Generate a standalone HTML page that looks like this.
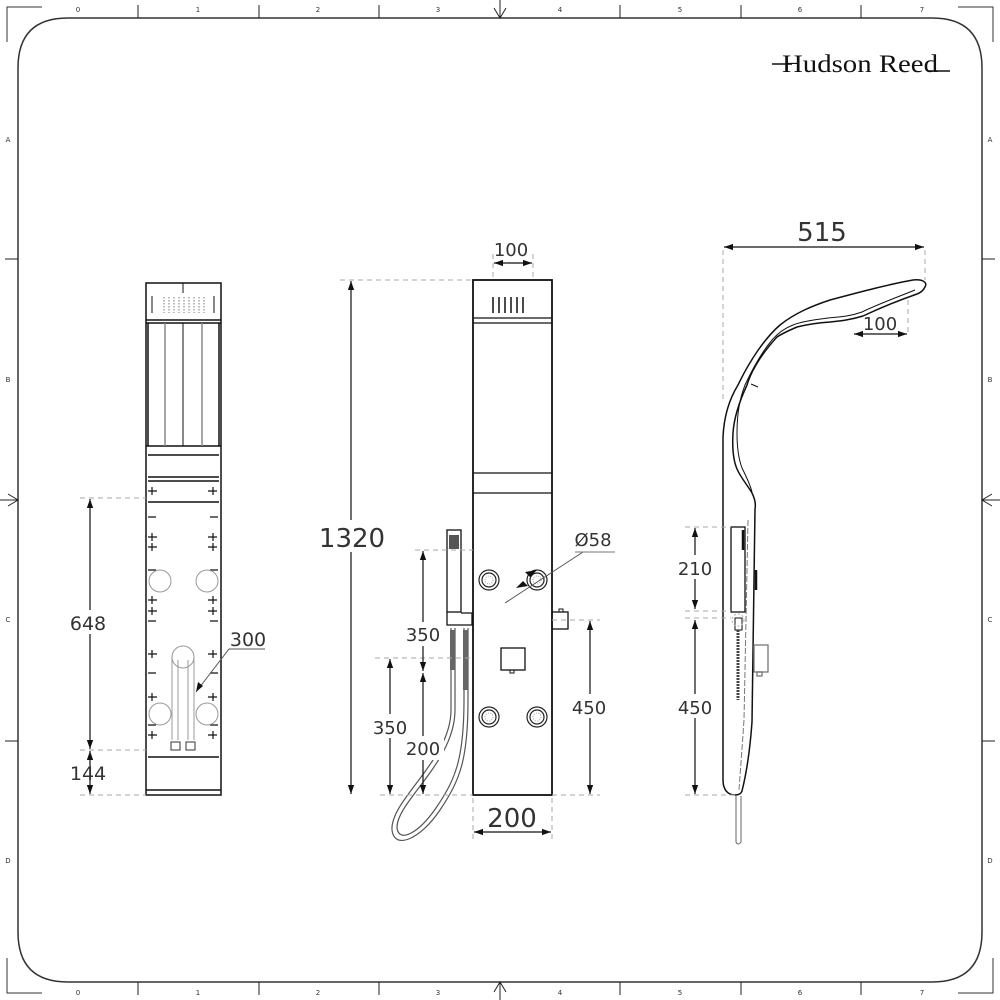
<!DOCTYPE html>
<html><head><meta charset="utf-8"><style>
html,body{margin:0;padding:0;background:#fff;width:1000px;height:1000px;overflow:hidden}
svg{display:block}
text{font-family:"DejaVu Sans","Liberation Sans",sans-serif;fill:#333}
</style></head><body>
<svg width="1000" height="1000" viewBox="0 0 1000 1000" xmlns="http://www.w3.org/2000/svg">
<defs>
<marker id="a" viewBox="0 0 10 10" refX="10" refY="5" markerWidth="9" markerHeight="9" orient="auto-start-reverse" markerUnits="userSpaceOnUse"><path d="M0,1.5 L10,5 L0,8.5 z" fill="#111"/></marker>
</defs>
<g fill="none" stroke="#333" stroke-width="1.5">
<path d="M18,68 Q18,18 68,18 L932,18 Q982,18 982,68 L982,932 Q982,982 932,982 L68,982 Q18,982 18,932 Z"/>
<path d="M7,42 V7 H42 M958,7 H993 V42 M7,958 V993 H42 M958,993 H993 V958" stroke-width="1"/>
</g>
<g stroke="#222" stroke-width="1">
<path d="M138,5V18 M259,5V18 M379,5V18 M620,5V18 M741,5V18 M861,5V18"/>
<path d="M138,982V995 M259,982V995 M379,982V995 M620,982V995 M741,982V995 M861,982V995"/>
<path d="M5,259H18 M5,741H18 M982,259H995 M982,741H995"/>
<path d="M500,0V18 M494,8L500,18L506,8 M500,982V1000 M494,992L500,982L506,992" fill="none"/>
<path d="M0,500H18 M8,494L18,500L8,506 M982,500H1000 M992,494L982,500L992,506" fill="none"/>
</g>
<g font-size="7" text-anchor="middle" style="font-family:'Liberation Mono',monospace">
<text x="78" y="12">0</text><text x="198" y="12">1</text><text x="318" y="12">2</text><text x="438" y="12">3</text><text x="560" y="12">4</text><text x="680" y="12">5</text><text x="800" y="12">6</text><text x="922" y="12">7</text>
<text x="78" y="995">0</text><text x="198" y="995">1</text><text x="318" y="995">2</text><text x="438" y="995">3</text><text x="560" y="995">4</text><text x="680" y="995">5</text><text x="800" y="995">6</text><text x="922" y="995">7</text>
<text x="8" y="142">A</text><text x="8" y="382">B</text><text x="8" y="622">C</text><text x="8" y="863">D</text>
<text x="990" y="142">A</text><text x="990" y="382">B</text><text x="990" y="622">C</text><text x="990" y="863">D</text>
</g>
<text x="782" y="72" font-size="25" textLength="156" lengthAdjust="spacingAndGlyphs" style="font-family:'Liberation Serif',serif;fill:#111">Hudson Reed</text>
<path d="M772,64H792 M928,71H950" stroke="#111" stroke-width="1.5"/>

<!-- LEFT VIEW -->
<g fill="none" stroke="#111" stroke-width="1.5">
<rect x="146" y="283" width="75" height="512"/>
<path d="M146,320H221 M146,323H221 M146,446H221 M148,455H219 M148,477H219 M148,481H219 M148,502H219 M148,757H219 M146,790H221"/>
<path d="M183,323V446 M183,283V293" stroke-width="1"/>
<path d="M148,323V446 M219,323V446 M148,340V446" />
<path d="M165,323V446 M202,323V446" stroke="#888"/>
<path d="M164,297V313 M169,297V313 M174,297V313 M179,297V313 M184,297V313 M189,297V313 M194,297V313 M199,297V313 M204,297V313" stroke="#777" stroke-dasharray="1.5,1.5" stroke-width="1"/>
<path d="M152,296V313 M214,296V313" stroke-width="1"/>
</g>
<g stroke="#111" stroke-width="1.2">
<path d="M148,491h9 M152,487v8 M208,491h9 M213,487v8"/>
<path d="M148,517h8 M210,517h8"/>
<path d="M148,537h9 M152,533v8 M208,537h9 M213,533v8 M148,547h9 M152,543v8 M208,547h9 M213,543v8"/>
<path d="M148,570h8 M210,570h8"/>
<path d="M148,600h9 M152,596v8 M208,600h9 M213,596v8 M148,611h9 M152,607v8 M208,611h9 M213,607v8"/>
<path d="M148,621h8 M210,621h8 M148,654h9 M152,650v8 M208,654h9 M213,650v8"/>
<path d="M148,673h8 M210,673h8 M148,697h9 M152,693v8 M208,697h9 M213,693v8"/>
<path d="M148,725h8 M210,725h8 M148,735h9 M152,731v8 M208,735h9 M213,731v8"/>
</g>
<g fill="none" stroke="#999" stroke-width="1">
<circle cx="160" cy="581" r="11"/><circle cx="207" cy="581" r="11"/>
<circle cx="160" cy="714" r="11"/><circle cx="207" cy="714" r="11"/>
<circle cx="183" cy="657" r="11"/>
<path d="M172,657V740 M178,660V740 M188,660V740 M194,657V740"/>
</g>
<g fill="none" stroke="#333" stroke-width="1"><rect x="171" y="742" width="9" height="8"/><rect x="186" y="742" width="9" height="8"/></g>
<g stroke="#aaa" stroke-width="1" stroke-dasharray="5,4">
<path d="M80,498H146 M80,750H146 M80,795H146"/>
</g>
<g stroke="#111" stroke-width="1.2" fill="none">
<path d="M90,499V749" marker-start="url(#a)" marker-end="url(#a)"/>
<path d="M90,751V794" marker-start="url(#a)" marker-end="url(#a)"/>
<path d="M265,649H229 L196,692" stroke="#555" stroke-width="1"/>
</g>
<path d="M196,692 l2,-10 l5,4 z" fill="#111"/>
<g font-size="19" text-anchor="middle">
<rect x="70" y="610" width="40" height="24" fill="#fff"/>
<text x="88" y="630">648</text><text x="88" y="780">144</text><text x="248" y="646">300</text>
</g>

<!-- MIDDLE VIEW -->
<g fill="none" stroke="#111" stroke-width="1.8">
<rect x="473" y="280" width="79" height="515"/>
<path d="M473,318H552 M473,323H552 M473,473H552 M473,493H552" stroke-width="1.3"/>
<path d="M493,297V313 M499,297V313 M505,297V313 M511,297V313 M517,297V313 M523,297V313" stroke-width="1.5"/>
<rect x="501" y="648" width="24" height="22" stroke-width="1.3"/>
<rect x="510" y="670" width="4" height="3" stroke-width="1"/>
<rect x="552" y="612" width="16" height="17" stroke-width="1.3"/>
<rect x="559" y="609" width="4" height="3" stroke-width="1"/>
</g>
<g fill="none" stroke="#222" stroke-width="1.2">
<circle cx="489" cy="580" r="10"/><circle cx="489" cy="580" r="7"/>
<circle cx="537" cy="580" r="10"/><circle cx="537" cy="580" r="7"/>
<circle cx="489" cy="717" r="10"/><circle cx="489" cy="717" r="7"/>
<circle cx="537" cy="717" r="10"/><circle cx="537" cy="717" r="7"/>
</g>
<g fill="none" stroke="#999" stroke-dasharray="1,1.5"><circle cx="489" cy="580" r="4"/><circle cx="537" cy="580" r="4"/><circle cx="489" cy="717" r="4"/><circle cx="537" cy="717" r="4"/></g>
<g fill="none" stroke="#111" stroke-width="1.3">
<rect x="447" y="530" width="14" height="82"/>
<rect x="449" y="535" width="10" height="14" fill="#555" stroke="none"/>
<path d="M447,612V625 H472 V613 H461"/>
</g>
<g fill="none" stroke="#555" stroke-width="1.2">
<path d="M451,628V710 C451,760 390,800 392,830 C394,850 420,840 440,810 C460,780 468,760 468,700 V628"/>
<path d="M455,628V710 C455,762 396,802 397,828 C399,843 418,834 436,808 C455,780 464,760 464,700 V628"/>
</g>
<rect x="450" y="630" width="5" height="40" fill="#666"/>
<rect x="463" y="630" width="5" height="60" fill="#666"/>
<g stroke="#aaa" stroke-width="1" stroke-dasharray="5,4">
<path d="M340,280H473 M493,254V280 M533,254V280 M375,658H473 M415,550H473 M380,795H473 M552,620H600 M552,795H600 M473,798V840 M552,798V840"/>
</g>
<g stroke="#555" stroke-width="1"><path d="M583,552L505,603"/></g>
<path d="M537,570 l-12,2 l5,5z M516,588 l12,-2 l-5,-5z" fill="#111"/>
<g stroke="#111" stroke-width="1.2" fill="none">
<path d="M351,281V794" marker-start="url(#a)" marker-end="url(#a)"/>
<path d="M494,263H532" marker-start="url(#a)" marker-end="url(#a)"/>
<path d="M423,551V671" marker-start="url(#a)" marker-end="url(#a)"/>
<path d="M423,673V794" marker-start="url(#a)" marker-end="url(#a)"/>
<path d="M390,659V794" marker-start="url(#a)" marker-end="url(#a)"/>
<path d="M590,621V794" marker-start="url(#a)" marker-end="url(#a)"/>
<path d="M474,832H551" marker-start="url(#a)" marker-end="url(#a)"/>
</g>
<g text-anchor="middle">
<rect x="320" y="520" width="64" height="32" fill="#fff"/>
<text x="352" y="547" font-size="26">1320</text>
<text x="511" y="256" font-size="18">100</text>
<rect x="402" y="622" width="42" height="24" fill="#fff"/>
<text x="423" y="641" font-size="18">350</text>
<rect x="370" y="714" width="40" height="24" fill="#fff"/>
<text x="390" y="734" font-size="18">350</text>
<rect x="404" y="736" width="40" height="24" fill="#fff"/>
<text x="423" y="755" font-size="18">200</text>
<rect x="570" y="694" width="40" height="24" fill="#fff"/>
<text x="589" y="714" font-size="18">450</text>
<text x="512" y="827" font-size="26">200</text>
<text x="593" y="546" font-size="18">Ø58</text>
</g>
<path d="M575,552H615" stroke="#777" stroke-width="1"/>

<!-- RIGHT VIEW -->
<g fill="none" stroke="#111" stroke-width="1.5">
<path d="M723,780 V437 C724,415 730,398 738,385 C750,360 765,338 780,325 C795,313 812,306 830,300 C860,292 890,284 913,280 C922,279 928,282 925,287 C923,291 920,293 917,294 C900,300 880,308 863,316 C850,320 840,321 830,322 C815,323 805,325 797,327 C790,330 783,333 777,337 C765,350 752,368 747,385 C740,400 734,418 733,433 C732,450 734,462 737,469 C741,478 748,486 752,493 C755,499 756,504 755,509 L752,722 C750,750 746,775 742,791 C741,794 738,795 735,795 C728,795 723,790 723,780 Z"/>
<path d="M915,290 C898,297 878,304 862,312 C848,317 838,317 828,318 C812,320 800,322 793,325 C785,328 778,333 772,340 C762,352 752,370 745,385 C739,400 737,418 737,433 C737,450 739,460 742,468 C746,476 750,484 752,492" stroke-width="1"/>
<path d="M748,520 L744,720 C742,750 740,775 739,790" stroke="#777" stroke-width="1" stroke-dasharray="6,2"/>
<path d="M751,384L758,387" stroke-width="1"/>
</g>
<g fill="none" stroke="#111" stroke-width="1.3">
<rect x="731" y="527" width="14" height="85"/>
<path d="M743,530V550" stroke-width="2.5"/>
<rect x="754" y="645" width="14" height="27" stroke="#777"/>
<rect x="757" y="672" width="5" height="4" stroke="#777"/>
<path d="M756,570v20" stroke-width="2.5"/>
<path d="M735,618 h7 v12 h-7z" stroke-width="1"/>
<path d="M736,796 V842 Q738,846 741,842 V796" stroke="#666" stroke-width="1"/>
<path d="M738,630V700" stroke="#444" stroke-width="3" stroke-dasharray="2,1"/>
</g>
<circle cx="738" cy="620" r="6" fill="none" stroke="#aaa" stroke-dasharray="2,2"/>
<g stroke="#aaa" stroke-width="1" stroke-dasharray="5,4">
<path d="M723,250V400 M925,250V280 M908,300V334 M685,527H731 M685,611H731 M685,618H731 M685,795H735"/>
</g>
<g stroke="#111" stroke-width="1.2" fill="none">
<path d="M724,247H924" marker-start="url(#a)" marker-end="url(#a)"/>
<path d="M854,334H907" marker-start="url(#a)" marker-end="url(#a)"/>
<path d="M695,528V609" marker-start="url(#a)" marker-end="url(#a)"/>
<path d="M695,620V794" marker-start="url(#a)" marker-end="url(#a)"/>
</g>
<g text-anchor="middle">
<text x="822" y="241" font-size="26">515</text>
<text x="880" y="330" font-size="18">100</text>
<rect x="675" y="555" width="40" height="24" fill="#fff"/>
<text x="695" y="575" font-size="18">210</text>
<rect x="675" y="694" width="40" height="24" fill="#fff"/>
<text x="695" y="714" font-size="18">450</text>
</g>
</svg>
</body></html>
